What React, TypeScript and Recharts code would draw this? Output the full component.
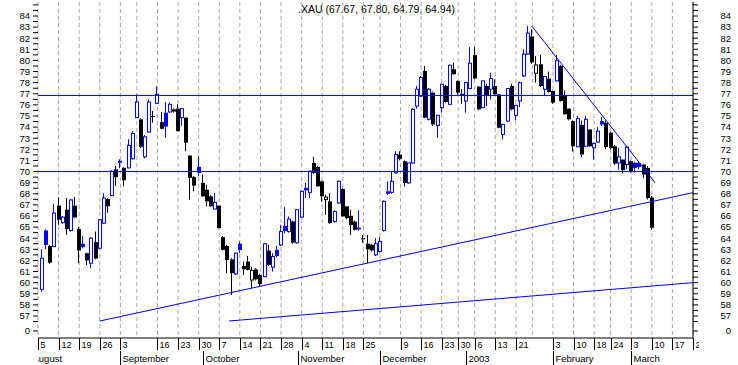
import React from "react";
import { ComposedChart, Bar, XAxis, YAxis, CartesianGrid, ReferenceLine } from "recharts";

const BLUE = "#0000ff";
const FONT = "'Liberation Sans', Arial, sans-serif";

// x = trading-day index, Aug 5 2002 = 0; first candle is the next day
const firstDay = 1;

const opens = [
  59.4, 64.7, 63.3, 63.25, 66.93, 65.4, 66.57, 64.7, 66.93, 64.82,
  63.5, 62.65, 61.75, 63.65, 63.1, 65.36, 67.53, 67.83, 70.2, 70.9,
  70.33, 70.33, 71.15, 74.85, 74.7, 71.33, 73.55, 75.0, 76.14, 74.45,
  75.3, 75.36, 75.6, 75.66, 74.85, 74.85, 71.44, 69.52, 70.42, 68.98,
  68.37, 67.77, 66.63, 66.93, 64.1, 63.3, 62.1, 60.78, 63.5, 61.5,
  61.9, 60.24, 61.2, 60.69, 60.54, 62.89, 61.39, 62.95, 63.4, 65.12,
  64.6, 65.5, 63.6, 65.9, 68.53, 68.13, 70.78, 70.42, 69.12, 67.47,
  67.32, 65.5, 67.17, 68.43, 66.87, 66.02, 65.5, 64.95, 64.0, 63.5,
  63.4, 62.5, 62.8, 64.7, 68.22, 68.13, 69.88, 71.53, 70.93, 68.98,
  70.78, 75.9, 76.8, 79.06, 74.7, 77.1, 74.15, 75.75, 77.7, 76.05,
  79.21, 78.16, 77.0, 76.35, 77.47, 80.48, 77.65, 75.75, 77.7, 77.41,
  77.7, 76.95, 73.34, 74.54, 77.7, 75.06, 76.35, 78.61, 80.57, 82.16,
  78.85, 79.66, 77.41, 78.37, 77.26, 78.16, 79.51, 76.86, 75.66, 74.54,
  72.23, 74.2, 72.28, 73.79, 72.14, 72.65, 74.54, 74.4, 73.5, 72.28,
  70.78, 71.08, 70.63, 70.93, 70.78, 70.78, 70.63, 70.33, 67.67,
];
const highs = [
  63.0, 64.8, 63.4, 67.1, 67.68, 66.0, 67.6, 67.5, 67.7, 65.0,
  64.2, 62.7, 64.1, 64.6, 65.7, 68.07, 67.6, 70.1, 70.5, 71.1,
  70.4, 72.9, 73.64, 76.95, 74.8, 73.3, 76.5, 75.45, 77.65, 75.36,
  76.26, 76.2, 75.7, 76.05, 75.7, 74.9, 71.5, 69.6, 71.38, 69.73,
  68.82, 67.9, 68.07, 66.95, 64.2, 63.4, 62.2, 62.7, 63.7, 61.9,
  62.4, 61.45, 61.3, 60.8, 63.55, 63.4, 62.65, 63.3, 65.2, 66.8,
  65.96, 65.6, 66.6, 68.3, 68.98, 70.1, 71.33, 70.5, 69.2, 67.92,
  68.07, 66.5, 69.2, 68.5, 66.9, 66.57, 65.6, 66.5, 64.3, 64.3,
  63.5, 64.0, 64.1, 67.4, 69.1, 70.0, 71.83, 71.83, 71.0, 70.8,
  75.7, 77.7, 78.6, 79.5, 77.5, 77.2, 75.1, 77.9, 77.8, 79.6,
  79.8, 78.2, 77.4, 78.1, 81.2, 81.2, 77.7, 78.2, 77.9, 78.9,
  78.3, 77.0, 74.3, 77.5, 77.9, 76.0, 78.1, 81.0, 83.1, 82.8,
  80.4, 80.5, 78.6, 79.0, 77.3, 80.5, 79.6, 77.3, 75.7, 74.6,
  75.0, 74.6, 75.0, 73.8, 72.6, 74.0, 74.9, 74.6, 73.6, 72.4,
  72.14, 71.1, 72.3, 71.0, 70.9, 70.9, 70.7, 70.48, 67.8,
];
const lows = [
  59.2, 63.0, 61.7, 63.2, 65.2, 65.3, 64.3, 64.6, 65.8, 61.75,
  63.1, 61.6, 61.3, 62.1, 63.0, 65.3, 66.3, 67.8, 68.7, 70.3,
  68.67, 70.3, 71.1, 74.8, 72.1, 71.2, 73.5, 74.4, 76.1, 73.8,
  73.04, 75.3, 75.3, 73.6, 74.1, 71.83, 67.47, 68.22, 69.57, 67.7,
  66.87, 66.8, 66.6, 64.9, 62.9, 60.85, 58.9, 60.7, 62.65, 60.7,
  61.1, 59.5, 60.2, 59.7, 60.5, 61.5, 61.0, 62.3, 63.3, 64.46,
  64.5, 63.5, 63.5, 65.8, 67.62, 67.6, 69.8, 68.6, 67.3, 66.1,
  65.3, 65.4, 67.1, 65.9, 65.7, 64.3, 64.7, 64.7, 63.6, 61.75,
  62.8, 62.4, 62.7, 64.6, 67.9, 68.0, 69.8, 71.0, 68.67, 68.9,
  70.7, 75.66, 76.7, 74.8, 74.6, 74.1, 73.04, 75.3, 76.2, 76.0,
  78.7, 76.9, 76.1, 75.3, 77.4, 78.3, 75.5, 75.7, 75.9, 76.5,
  76.9, 73.9, 72.9, 74.5, 75.5, 74.6, 75.8, 78.5, 80.5, 79.7,
  78.0, 77.6, 76.8, 77.1, 76.1, 78.1, 76.3, 75.1, 74.6, 71.8,
  72.2, 71.3, 72.2, 72.2, 71.08, 72.6, 74.1, 72.0, 72.0, 70.6,
  70.18, 69.82, 70.2, 69.9, 69.9, 70.2, 69.4, 67.5, 64.79,
];
const closes = [
  62.2, 63.4, 61.8, 66.26, 65.66, 65.9, 64.82, 67.44, 65.87, 62.9,
  63.2, 62.0, 64.0, 62.17, 65.66, 67.62, 66.87, 70.03, 69.5, 70.93,
  69.21, 72.35, 73.43, 76.26, 72.23, 73.13, 76.26, 74.9, 76.95, 73.85,
  74.04, 76.05, 75.4, 73.64, 75.66, 72.59, 69.43, 68.73, 69.88, 67.77,
  67.32, 66.87, 67.23, 64.91, 62.95, 62.05, 60.85, 62.65, 62.95, 61.2,
  61.15, 61.1, 60.3, 59.88, 63.5, 61.6, 62.35, 62.4, 64.6, 64.65,
  65.72, 63.6, 66.57, 68.22, 68.3, 70.03, 69.88, 68.67, 67.77, 67.7,
  65.36, 66.4, 69.12, 65.96, 65.81, 65.2, 64.76, 64.8, 63.9, 63.0,
  62.9, 63.5, 63.7, 67.32, 68.0, 69.12, 71.53, 71.15, 68.98, 70.78,
  75.6, 77.41, 78.46, 74.85, 77.41, 74.24, 75.06, 77.86, 76.26, 79.57,
  78.76, 77.1, 76.9, 78.0, 79.75, 78.37, 75.6, 78.16, 76.8, 78.37,
  76.95, 73.94, 74.24, 77.47, 75.6, 75.96, 78.0, 80.57, 82.46, 79.82,
  79.6, 77.7, 78.55, 77.16, 76.2, 79.97, 76.35, 75.15, 74.7, 72.28,
  74.76, 71.53, 74.7, 72.28, 72.53, 73.64, 74.24, 72.2, 72.1, 70.72,
  71.33, 70.12, 72.2, 70.03, 70.33, 70.4, 69.73, 67.62, 64.94,
];

// first trading day of each week; "" = gridline only, no label
const weekStarts = [0, 5, 10, 15, 20, 24, 29, 34, 39, 44, 49, 54, 59, 64, 69, 74, 79, 83, 88, 93, 98, 102, 106, 111, 116, 120, 125, 130, 135, 139, 144, 149, 154, 159];
const weekLabels = ["5", "12", "19", "26", "3", "", "16", "23", "30", "7", "14", "21", "28", "4", "11", "18", "25", "", "9", "16", "23", "30", "6", "13", "21", "", "3", "10", "18", "24", "3", "10", "17", "24"];

const monthStarts = [-2, 20, 40, 63, 83, 104, 125, 144];
const monthLabels = ["August", "September", "October", "November", "December", "2003", "February", "March"];

const yLabels = [57, 58, 59, 60, 61, 62, 63, 64, 65, 66, 67, 68, 69, 70, 71, 72, 73, 74, 75, 76, 77, 78, 79, 80, 81, 82, 83, 84];
const zeroTick = 55.65;

const levels = [70, 76.85];
// trend lines: start day / value, end day / value
const trendX1 = [15, 46.4, 119.85];
const trendY1 = [56.55, 56.55, 83.1];
const trendX2 = [159, 159, 149.8];
const trendY2 = [68.1, 60.0, 69.0];

const title = ".XAU (67.67, 67.80, 64.79, 64.94)";

const candles = opens.map((o, i) => ({
  day: firstDay + i,
  o,
  h: highs[i],
  l: lows[i],
  c: closes[i],
  range: [lows[i], highs[i]],
  up: i === 0 || closes[i] >= closes[i - 1],
}));

const yTicks = [zeroTick, 56.5, ...yLabels.flatMap((v) => [v, v + 0.5]), 85];
const yFmt = (v: number) => (v === zeroTick ? "0" : yLabels.includes(v) ? String(v) : "");

function Candle(props: any) {
  const { x, y, width, height, payload } = props;
  if (x == null || !payload) return null;
  const { o, h, l, c, up } = payload;
  const color = up ? BLUE : "#000";
  const cx = Math.round(x + width / 2);
  const span = h - l;
  const py = (v: number) => (span > 0 ? y + ((h - v) / span) * height : y);
  const top = py(Math.max(o, c));
  const bot = py(Math.min(o, c));
  const wx = cx - 0.5;
  let body;
  if (c > o) {
    body = <rect x={cx - 1.5} y={top} width={3} height={Math.max(bot - top, 1)} fill="#fff" stroke={color} strokeWidth={1} />;
  } else if (c < o) {
    body = <rect x={cx - 2} y={top} width={4} height={Math.max(bot - top, 1)} fill={color} />;
  } else {
    body = <line x1={cx - 2} x2={cx + 2} y1={top} y2={top} stroke={color} />;
  }
  return (
    <g>
      <line x1={wx} x2={wx} y1={y} y2={top} stroke={color} />
      <line x1={wx} x2={wx} y1={bot} y2={y + height} stroke={color} />
      {body}
    </g>
  );
}

function WeekTick(props: any) {
  const { x, y, payload } = props;
  const label = weekLabels[weekStarts.indexOf(payload.value)] ?? "";
  const id = `wk-${payload.value}`;
  const lx = Math.round(x) + 0.5;
  return (
    <g>
      <defs>
        <clipPath id={id}>
          <rect x={38} y={y} width={661} height={14} />
        </clipPath>
      </defs>
      <g clipPath={`url(#${id})`}>
        <line x1={lx} x2={lx} y1={y} y2={y + 12} stroke="#000" />
        <text x={lx + 2} y={y + 10} fontSize={9} fontFamily={FONT} fill="#000">
          {label}
        </text>
      </g>
    </g>
  );
}

function MonthTick(props: any) {
  const { x, y, payload } = props;
  const label = monthLabels[monthStarts.indexOf(payload.value)] ?? "";
  const id = `mo-${payload.value}`;
  const lx = Math.round(x) + 0.5;
  return (
    <g>
      <defs>
        <clipPath id={id}>
          <rect x={38} y={y} width={661} height={15} />
        </clipPath>
      </defs>
      <g clipPath={`url(#${id})`}>
        <line x1={lx} x2={lx} y1={y} y2={y + 14} stroke="#000" />
        <text x={lx + 2} y={y + 11} fontSize={9.5} fontFamily={FONT} fill="#000">
          {label}
        </text>
      </g>
    </g>
  );
}

function RightTick(props: any) {
  const { x, y, payload } = props;
  return (
    <text x={x + 31} y={y} dy="0.35em" textAnchor="end" fontSize={9.5} fontFamily={FONT} fill="#000">
      {yFmt(payload.value)}
    </text>
  );
}

export default function App() {
  return (
    <div style={{ position: "absolute", left: 0, top: 0, width: 738, height: 365, background: "#fff" }}>
      <div
        style={{
          position: "absolute",
          left: 298,
          top: 3,
          fontFamily: FONT,
          fontSize: 10.5,
          lineHeight: "12px",
          whiteSpace: "nowrap",
          color: "#000",
        }}
      >
        {title}
      </div>
      <ComposedChart width={738} height={365} data={candles} margin={{ top: 2, right: 0, bottom: 0, left: 0 }}>
        <CartesianGrid horizontal={false} verticalValues={weekStarts} stroke="#a8a8a8" strokeDasharray="4 3" />
        <XAxis
          dataKey="day"
          type="number"
          domain={[0, 159]}
          allowDataOverflow
          ticks={weekStarts.filter((_, i) => weekLabels[i] !== "")}
          interval={0}
          tick={<WeekTick />}
          tickLine={false}
          tickSize={0}
          tickMargin={0}
          height={13}
          axisLine={{ stroke: "#000" }}
        />
        <XAxis
          xAxisId="month"
          dataKey="day"
          type="number"
          domain={[0, 159]}
          allowDataOverflow
          ticks={monthStarts}
          interval={0}
          tick={<MonthTick />}
          tickLine={false}
          tickSize={0}
          tickMargin={0}
          height={14}
          axisLine={false}
        />
        <YAxis
          type="number"
          domain={[55.02, 85.26]}
          allowDataOverflow
          ticks={yTicks}
          interval={0}
          tickFormatter={yFmt}
          width={38}
          tickSize={5}
          tickMargin={3}
          axisLine={false}
          tickLine={{ stroke: "#000" }}
          tick={{ fontSize: 9.5, fill: "#000", fontFamily: FONT }}
        />
        <YAxis
          yAxisId="right"
          orientation="right"
          type="number"
          domain={[55.02, 85.26]}
          allowDataOverflow
          ticks={yTicks}
          interval={0}
          width={45}
          tickSize={5}
          tickMargin={2}
          axisLine={{ stroke: "#000" }}
          tickLine={{ stroke: "#000" }}
          tick={<RightTick />}
        />
        <Bar dataKey="range" barSize={4} shape={<Candle />} isAnimationActive={false} />
        {levels.map((v) => (
          <ReferenceLine key={`lv-${v}`} y={v} stroke={BLUE} strokeWidth={1} />
        ))}
        {trendX1.map((x1, i) => (
          <ReferenceLine
            key={`tr-${i}`}
            segment={[
              { x: x1, y: trendY1[i] },
              { x: trendX2[i], y: trendY2[i] },
            ]}
            stroke={BLUE}
            strokeWidth={1}
          />
        ))}
      </ComposedChart>
    </div>
  );
}
